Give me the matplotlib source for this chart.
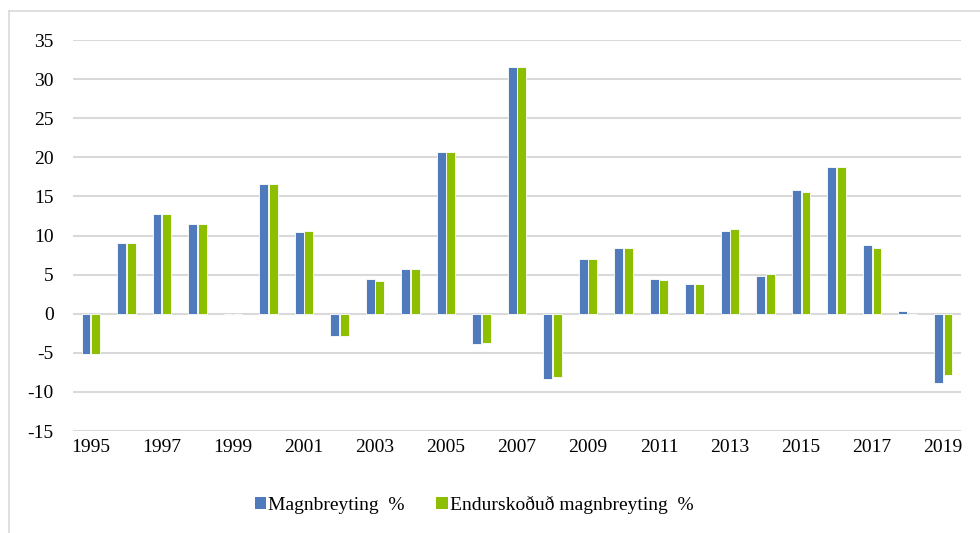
import numpy as np
import matplotlib
matplotlib.use("Agg")
import matplotlib.pyplot as plt
from matplotlib.lines import Line2D
from matplotlib.patches import Patch

plt.rcParams['font.family'] = ['Liberation Serif', 'DejaVu Serif']
plt.rcParams['axes.unicode_minus'] = False

years = list(range(1995, 2020))
magn = [-5.1, 9.1, 12.7, 11.5, 0.0, 16.6, 10.5, -2.9, 4.4, 5.7, 20.7, -3.9, 31.5,
        -8.4, 7.0, 8.4, 4.4, 3.8, 10.6, 4.8, 15.8, 18.7, 8.8, 0.3, -8.8]
endursk = [-5.1, 9.0, 12.7, 11.5, 0.0, 16.6, 10.6, -2.8, 4.2, 5.7, 20.7, -3.8, 31.6,
           -8.1, 7.0, 8.4, 4.3, 3.8, 10.8, 5.1, 15.5, 18.7, 8.4, 0.0, -7.9]
labels = ['Magnbreyting  %', 'Endurskoðuð magnbreyting  %']
blue = '#4f7abb'
green = '#8dbf00'

fig = plt.figure(figsize=(9.8, 5.33), dpi=100)
ax = fig.add_axes([73/980, 1 - 431/533, 888/980, 391/533])

x = np.arange(len(years))
w = 0.25
ax.bar(x - w/2 - 0.01, magn, w, color=blue, edgecolor='white', linewidth=0.6, zorder=3)
ax.bar(x + w/2 + 0.01, endursk, w, color=green, edgecolor='white', linewidth=0.6, zorder=3)

ax.set_xlim(-0.5, len(years) - 0.5)
ax.set_ylim(-15, 35)
ax.set_yticks(range(-15, 36, 5))
ax.set_xticks(x[::2])
ax.set_xticklabels([str(y) for y in years[::2]])
ax.grid(axis='y', color='#d9d9d9', linewidth=1.5, zorder=0)
ax.tick_params(axis='both', length=0, labelsize=14)
ax.tick_params(axis='y', pad=14)
ax.tick_params(axis='x', pad=6)
for s in ax.spines.values():
    s.set_visible(False)

handles = [Patch(facecolor=blue), Patch(facecolor=green)]
fig.legend(handles, labels, loc='center', bbox_to_anchor=(474/980, 1 - 505/533),
           ncol=2, frameon=False, fontsize=14, handlelength=0.6, handleheight=0.6,
           handletextpad=0.1, columnspacing=1.6)

# light frame around chart
fig.add_artist(Line2D([9/980, 9/980], [0, 1 - 11/533], color='#d9d9d9', linewidth=1.2))
fig.add_artist(Line2D([9/980, 1], [1 - 11/533, 1 - 11/533], color='#d9d9d9', linewidth=1.2))

fig.savefig('out.png', dpi=100)
